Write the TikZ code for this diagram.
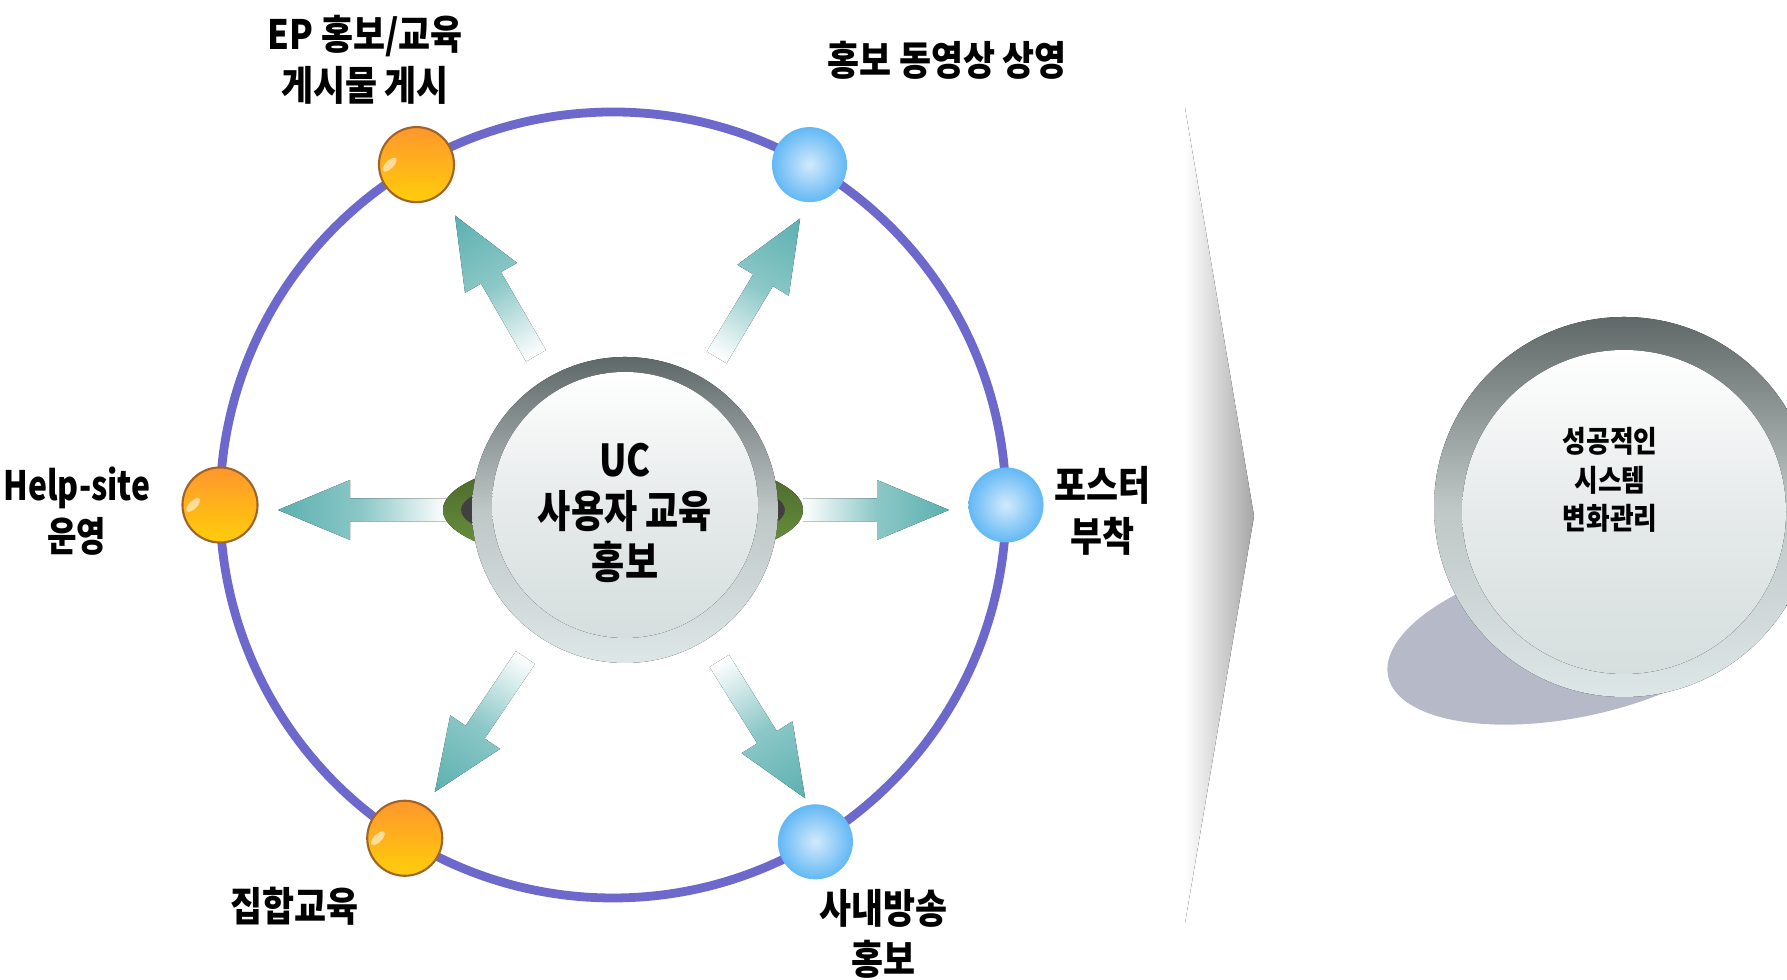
\documentclass[tikz,border=0pt]{standalone}
\usepackage{fontspec}
\setmainfont{Noto Sans CJK KR}
\usetikzlibrary{calc}

\definecolor{ringblue}{RGB}{108,104,204}
\definecolor{arrowteal}{RGB}{92,176,176}
\definecolor{chevgray}{RGB}{166,166,166}
\definecolor{rimtop}{RGB}{95,104,104}
\definecolor{rimmid}{RGB}{190,198,198}
\definecolor{rimbot}{RGB}{222,231,231}
\definecolor{glassmid}{RGB}{230,234,234}
\definecolor{glassbot}{RGB}{214,222,222}
\definecolor{orangetop}{RGB}{255,150,45}
\definecolor{orangebot}{RGB}{255,206,10}
\definecolor{orangeedge}{RGB}{160,100,40}
\definecolor{bluein}{RGB}{210,234,251}
\definecolor{blueout}{RGB}{98,184,245}
\definecolor{leafdark}{RGB}{68,98,40}
\definecolor{leaflight}{RGB}{112,152,66}
\definecolor{shadowgray}{RGB}{181,185,200}

\begin{document}
\begin{tikzpicture}[x=0.01cm,y=0.01cm,
	lbl/.style={font=\fontsize{11.5}{14.5}\selectfont\bfseries,align=center,xscale=0.86,inner sep=0pt},
	ring/.style={draw=ringblue,line width=2.5pt},
	fade/.style={left color=white,right color=arrowteal,middle color=arrowteal!70},
	rim/.style={top color=rimtop,bottom color=rimbot,middle color=rimmid},
	glass/.style={top color=white,bottom color=glassbot,middle color=glassmid},
	orangeball/.style={circle,minimum size=0.75cm,draw=orangeedge,line width=0.6pt,top color=orangetop,bottom color=orangebot},
	blueball/.style={circle,minimum size=0.75cm,inner color=bluein,outer color=blueout}]
	\useasboundingbox (0,0) rectangle (1787,980);

	% big grey chevron
	\fill[left color=white,right color=chevgray] (1185,872) -- (1254,464) -- (1185,57) -- cycle;

	\coordinate (ringc) at (613,475);
	\coordinate (hub) at (625,470);
	\draw[ring] (ringc) circle (393);

	\foreach \a/\tip in {120/340,59/340,180/347,0/324,-124/340,-58/340} {
		\begin{scope}[transform canvas={shift={(hub)},rotate=\a}]
			\fill[fade] (178,-11.5) -- ({\tip-72},-11.5) -- ({\tip-72},-30) -- (\tip,0) -- ({\tip-72},30) -- ({\tip-72},11.5) -- (178,11.5) -- cycle;
		\end{scope}
	}

	% centre ball
	\fill[top color=leafdark,bottom color=leaflight] (623,470) ellipse (180 and 55);
	\fill[black!75] (623,470) ellipse (162 and 38);
	\fill[rim] (hub) circle (153);
	\fill[glass] (625,475) circle (133);
	\node[font=\fontsize{12.5}{14.5}\selectfont\bfseries,align=center,xscale=0.82] (uc) at (625,467) {UC\\사용자 교육\\홍보};

	\node[orangeball] (epball) at ($(ringc)+(120:393)$) {};
	\node[blueball] (vidball) at ($(ringc)+(60:393)$) {};
	\node[orangeball] (helpball) at ($(ringc)+(180:393)$) {};
	\node[blueball] (posball) at ($(ringc)+(0:393)$) {};
	\node[orangeball] (grpball) at ($(ringc)+(-122:393)$) {};
	\node[blueball] (bcsball) at ($(ringc)+(-59:393)$) {};
	\foreach \b in {epball,helpball,grpball}
		\fill[white,opacity=0.55,rotate around={45:($(\b.center)+(-19,19)$)}] ($(\b.center)+(-19,19)$) ellipse (9 and 4);

	\node[lbl] (eptxt) at (365,920) {EP 홍보/교육\\게시물 게시};
	\node[lbl] (vidtxt) at (947,920) {홍보 동영상 상영};
	\node[lbl,xscale=0.92] (helptxt) at (77,469) {Help-site\\운영};
	\node[lbl] (postxt) at (1102,469) {포스터\\부착};
	\node[lbl] (grptxt) at (294,74) {집합교육};
	\node[lbl] (bcstxt) at (883,46) {사내방송\\홍보};

	% result ball
	\fill[shadowgray,rotate around={12:(1574,343)}] (1574,343) ellipse (190 and 80);
	\fill[rim] (1624,473) circle (190);
	\fill[glass] (1624,468) circle (162);
	\node[font=\fontsize{8.5}{11}\selectfont\bfseries,align=center,xscale=0.86] (goal) at (1610,500) {성공적인\\시스템\\변화관리};
\end{tikzpicture}
\end{document}
